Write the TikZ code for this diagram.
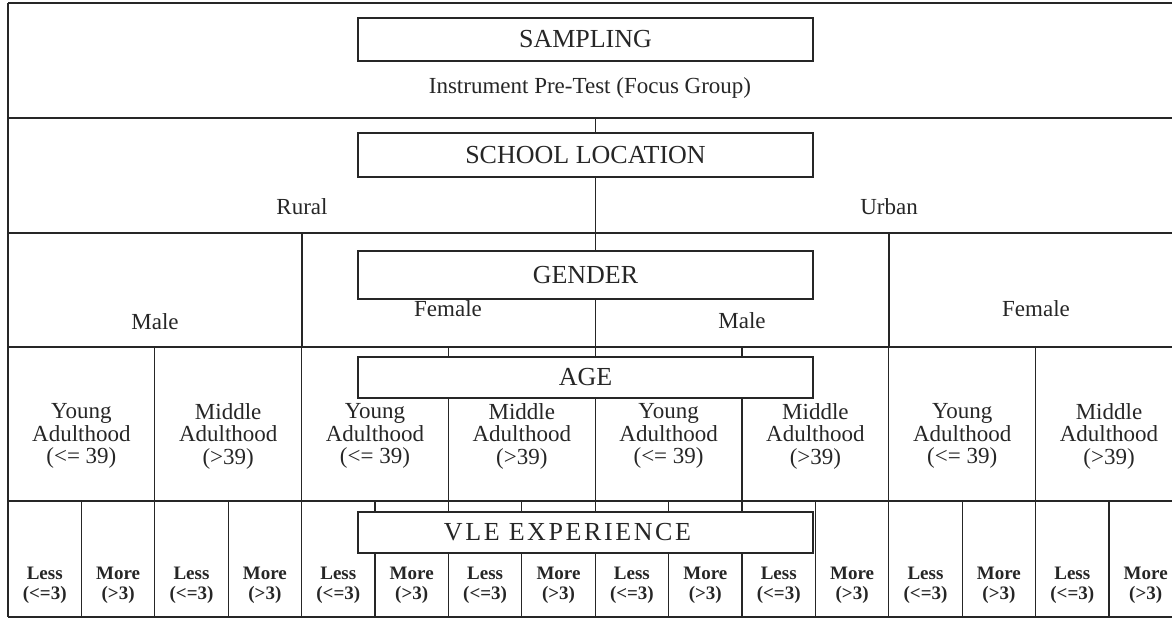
\documentclass[tikz,border=0pt]{standalone}
\usepackage{fontspec}
\setmainfont{Liberation Serif}
\newfontfamily\widefont[LetterSpace=10]{Liberation Serif}
\begin{document}
\begin{tikzpicture}[x=1pt, y=-1pt, line width=1.2pt, color=black!85,
    catbox/.style={draw, minimum width=455pt, minimum height=43pt, inner sep=0pt,
      font=\fontsize{26}{26}\selectfont},
    lbl/.style={align=center, inner sep=0pt, font=\fontsize{23}{22.5}\selectfont},
    vlbl/.style={align=center, inner sep=0pt, font=\bfseries\fontsize{19}{20}\selectfont}]

    \def \xl {8}      % left edge
    \def \xr {1172}   % right edge (cut off)
    \def \cw {146.8}  % width of one age column
    \useasboundingbox (0,0) rectangle (1172,619);

    % draw the row lines and the left edge
    \foreach \y in {3,118,233,347,501,617}
    {
      \draw (\xl,\y) -- (\xr,\y);
    }
    \draw (\xl,3) -- (\xl,617);

    % full column lines in each row
    \foreach \x in {302,889}
      \draw (\x,233) -- (\x,347);
    \foreach \i in {1,2,6,7}
      \draw ({\xl+\i*\cw},347) -- ({\xl+\i*\cw},501);
    \foreach \i in {1,2,3,4,11,12,13,14,15}
      \draw ({\xl+\i*\cw/2},501) -- ({\xl+\i*\cw/2},617);

    % the category boxes
    \node[catbox] (sampling) at (585.5,39.5) {SAMPLING};
    \node[catbox, minimum height=44pt] (location) at (585.5,155) {SCHOOL LOCATION};
    \node[catbox, minimum height=48pt] (gender) at (585.5,275) {GENDER};
    \node[catbox, minimum height=41pt] (age) at (585.5,377.5) {AGE};
    \node[catbox, minimum height=41pt, font=\widefont\fontsize{26}{26}\selectfont]
      (vle) at (585.5,532.5) {VLE EXPERIENCE\hspace*{36pt}};

    % define coordinates on the row lines and join them to the boxes
    \coordinate (l1) at ({\xl+4*\cw},118);
    \coordinate (l2) at ({\xl+4*\cw},233);
    \coordinate (g3) at ({\xl+4*\cw},347);
    \draw (l1) -- (l1 |- location.north);
    \draw (location.south -| l2) -- (l2) -- (l2 |- gender.north);
    \draw (gender.south -| g3) -- (g3);
    \foreach \i in {3,4,5}
    {
      \coordinate (a\i) at ({\xl+\i*\cw},347);
      \coordinate (b\i) at ({\xl+\i*\cw},501);
      \draw (a\i) -- (a\i |- age.north);
      \draw (age.south -| b\i) -- (b\i);
    }
    \foreach \i in {5,...,10}
    {
      \coordinate (c\i) at ({\xl+\i*\cw/2},501);
      \coordinate (d\i) at ({\xl+\i*\cw/2},617);
      \draw (c\i) -- (c\i |- vle.north);
      \draw (vle.south -| d\i) -- (d\i);
    }

    % labels
    \node[lbl] (pretest) at (590,88) {Instrument Pre-Test (Focus Group)};
    \node[lbl] (rural) at (302,207) {Rural};
    \node[lbl] (urban) at (889,207) {Urban};
    \node[lbl] (male1) at (155,322) {Male};
    \node[lbl] (female1) at (448,309) {Female};
    \node[lbl] (male2) at (742,321) {Male};
    \node[lbl] (female2) at (1036,309) {Female};
    \foreach \i in {0,2,4,6}
    {
      \node[lbl] (young\i) at ({\xl+(\i+0.5)*\cw},436) {Young\\Adulthood\\(<= 39)};
      \node[lbl] (middle\i) at ({\xl+(\i+1.5)*\cw},436) {Middle\\Adulthood\\(>39)};
    }
    \foreach \j in {0,2,...,14}
    {
      \node[vlbl] (less\j) at ({\xl+(\j+0.5)*\cw/2},585) {Less\\(<=3)};
      \node[vlbl] (more\j) at ({\xl+(\j+1.5)*\cw/2},585) {More\\(>3)};
    }
  \end{tikzpicture}
\end{document}
